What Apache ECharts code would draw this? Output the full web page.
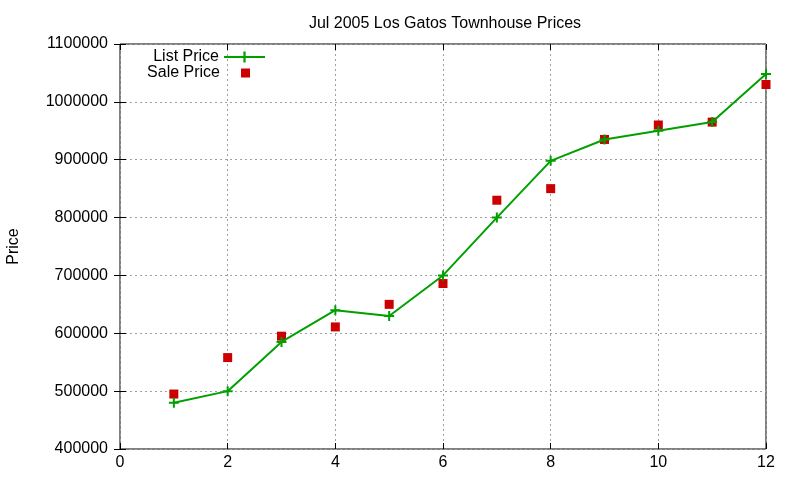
<!DOCTYPE html>
<html>
<head>
<meta charset="utf-8">
<script src="https://cdn.jsdelivr.net/npm/echarts@6/dist/echarts.min.js"></script>
<style>html,body{margin:0;padding:0;background:#fff}#c{width:800px;height:480px}</style>
</head>
<body>
<div id="c"></div>
<script>
const months = [1, 2, 3, 4, 5, 6, 7, 8, 9, 10, 11, 12];
const listPrice = [480000, 500000, 585000, 640000, 630000, 700000, 800000, 898000, 935000, 950000, 965000, 1048000];
const salePrice = [495000, 558000, 595000, 611000, 650000, 686000, 830000, 850000, 935000, 960000, 965000, 1030000];

const green = '#00a000';
const red = '#cc0000';
const font = 'Liberation Sans, Arial, sans-serif';
const fs = 16;
const plus = 'path://M4,0h2v10h-2z M0,4h10v2h-10z';

const chart = echarts.init(document.getElementById('c'));
chart.setOption({
  animation: false,
  title: {
    text: 'Jul 2005 Los Gatos Townhouse Prices',
    left: 440, top: 11, textAlign: 'center',
    textStyle: { fontFamily: font, fontSize: fs, fontWeight: 'normal', color: '#000' }
  },
  legend: [
    {
      data: ['List Price'], orient: 'vertical', align: 'right',
      right: 534, top: 49, itemWidth: 41, itemHeight: 14, padding: 0,
      textStyle: { fontFamily: font, fontSize: fs, color: '#000' }
    },
    {
      data: [{ name: 'Sale Price', icon: 'path://M0,0L0,0M41,14L41,14M16,2.5h9v9h-9z', itemStyle: { opacity: 1 } }],
      orient: 'vertical', align: 'right',
      right: 534, top: 65, itemWidth: 41, itemHeight: 14, padding: 0,
      textStyle: { fontFamily: font, fontSize: fs, color: '#000' }
    }
  ],
  grid: { left: 120, right: 34, top: 44, bottom: 31, show: true, borderColor: '#000', borderWidth: 1, outerBoundsMode: 'none', containLabel: false },
  xAxis: [
    {
      type: 'value', min: 0, max: 12, interval: 2,
      axisLine: { show: false },
      axisTick: { show: true, inside: true, length: 6, lineStyle: { color: '#000' } },
      axisLabel: { fontFamily: font, fontSize: fs, color: '#000', margin: 6 },
      splitLine: { show: true, lineStyle: { color: '#a0a0a0', type: [2, 3], width: 1 } }
    },
    {
      type: 'value', min: 0, max: 12, interval: 2, position: 'top',
      axisLine: { show: false },
      axisTick: { show: true, inside: true, length: 6, lineStyle: { color: '#000' } },
      axisLabel: { show: false }, splitLine: { show: false }
    }
  ],
  yAxis: [
    {
      type: 'value', min: 400000, max: 1100000, interval: 100000,
      name: 'Price', nameLocation: 'middle', nameGap: 98, nameRotate: 90,
      nameTextStyle: { fontFamily: font, fontSize: fs, color: '#000' },
      axisLine: { show: false },
      axisTick: { show: true, inside: true, length: 6, lineStyle: { color: '#000' } },
      axisLabel: { fontFamily: font, fontSize: fs, color: '#000', margin: 12, formatter: v => String(v) },
      splitLine: { show: true, lineStyle: { color: '#a0a0a0', type: [2, 3], width: 1 } }
    },
    {
      type: 'value', min: 400000, max: 1100000, interval: 100000, position: 'right',
      axisLine: { show: false },
      axisTick: { show: true, inside: true, length: 6, lineStyle: { color: '#000' } },
      axisLabel: { show: false }, splitLine: { show: false }
    }
  ],
  series: [
    {
      name: 'List Price', type: 'line',
      data: months.map((m, i) => [m, listPrice[i]]),
      symbol: plus, symbolSize: 10, showAllSymbol: true,
      lineStyle: { color: green, width: 2 },
      itemStyle: { color: green }
    },
    {
      name: 'Sale Price', type: 'scatter',
      data: months.map((m, i) => [m, salePrice[i]]),
      symbol: 'rect', symbolSize: 9,
      itemStyle: { color: red, opacity: 1 }
    }
  ]
});
</script>
</body>
</html>
